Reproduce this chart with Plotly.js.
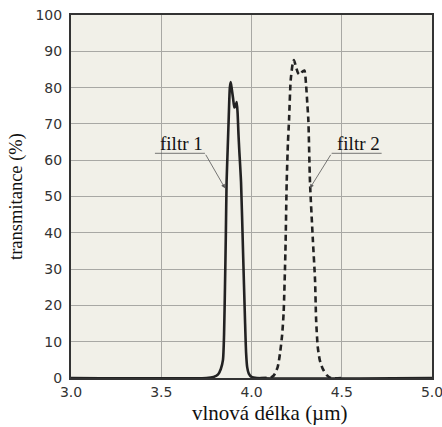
<!DOCTYPE html>
<html>
<head>
<meta charset="utf-8">
<script src="https://cdn.plot.ly/plotly-3.0.1.min.js"></script>
<style>html,body{margin:0;padding:0;background:#fff;}#chart{width:442px;height:427px;}</style>
</head>
<body>
<div id="chart"></div>
<script>
// Filter 1 (solid)
const filtr1X = [3.00, 3.75, 3.79, 3.815, 3.83, 3.842, 3.848, 3.853, 3.858, 3.862, 3.868, 3.874, 3.880, 3.885, 3.891, 3.898, 3.905, 3.912, 3.918, 3.923, 3.928, 3.932, 3.942, 3.953, 3.964, 3.970, 3.976, 3.985, 4.00, 4.03, 5.00];
const filtr1Y = [0, 0, 0.3, 1, 2.5, 5, 12, 25, 40, 54, 63, 72, 80, 81.5, 79.5, 77, 74.5, 75, 76, 73, 67, 63, 54, 35, 16, 7, 3, 1.2, 0.3, 0, 0];
// Filter 2 (dashed)
const filtr2X = [4.05, 4.11, 4.125, 4.145, 4.158, 4.17, 4.178, 4.188, 4.195, 4.202, 4.208, 4.217, 4.228, 4.235, 4.245, 4.258, 4.269, 4.280, 4.293, 4.302, 4.310, 4.315, 4.324, 4.340, 4.352, 4.358, 4.367, 4.378, 4.395, 4.417, 4.44, 4.50];
const filtr2Y = [0, 0.2, 0.8, 3, 6.8, 12, 18, 35, 54, 65, 71, 82, 86.5, 87.6, 86, 84, 83.5, 84.3, 84.7, 81, 75, 71, 54, 38, 27, 16, 8.6, 5, 2.5, 0.8, 0, 0];
// Labels
const labelTexts = ['filtr 1', 'filtr 2'];
const labelX = [3.613, 4.59];
const labelY = [64.5, 64.5];
const underlineX0 = [3.465, 4.444];
const underlineX1 = [3.742, 4.721];
const underlineY = [61.9, 61.9];
const arrowTailX = [3.742, 4.444];
const arrowHeadX = [3.853, 4.324];
const arrowHeadY = [52.3, 52.3];
const xTicks = [3.0, 3.5, 4.0, 4.5, 5.0];
const yTicks = [0, 10, 20, 30, 40, 50, 60, 70, 80, 90, 100];
const xTitle = 'vlnová délka (µm)';
const yTitle = 'transmitance (%)';

const traces = [
  {x: filtr1X, y: filtr1Y, type: 'scatter', mode: 'lines', line: {color: '#222', width: 2.6, shape: 'spline', smoothing: 0.6}, hoverinfo: 'skip'},
  {x: filtr2X, y: filtr2Y, type: 'scatter', mode: 'lines', line: {color: '#222', width: 2.6, dash: '6px,4px', shape: 'spline', smoothing: 0.6}, hoverinfo: 'skip'}
];

const annotations = [];
const shapes = [];
for (let i = 0; i < labelTexts.length; i++) {
  annotations.push({x: labelX[i], y: labelY[i], xref: 'x', yref: 'y', text: labelTexts[i], showarrow: false,
    font: {family: 'Liberation Serif, serif', size: 19, color: '#111'}});
  annotations.push({x: arrowHeadX[i], y: arrowHeadY[i], ax: arrowTailX[i], ay: underlineY[i], xref: 'x', yref: 'y', axref: 'x', ayref: 'y',
    text: '', showarrow: true, arrowhead: 2, arrowsize: 1, arrowwidth: 0.8, arrowcolor: '#555', standoff: 0});
  shapes.push({type: 'line', xref: 'x', yref: 'y', x0: underlineX0[i], x1: underlineX1[i], y0: underlineY[i], y1: underlineY[i],
    line: {color: '#555', width: 0.8}});
}
// x-axis title (placed slightly right of centre, as in the reference)
annotations.push({x: 0.551, y: -0.097, xref: 'paper', yref: 'paper', xanchor: 'center', yanchor: 'middle',
  text: xTitle, showarrow: false, font: {family: 'Liberation Serif, serif', size: 21, color: '#111'}});

const layout = {
  width: 442, height: 427,
  margin: {l: 71, r: 10, t: 15, b: 49},
  paper_bgcolor: '#ffffff',
  plot_bgcolor: '#f1f0e8',
  showlegend: false,
  xaxis: {
    range: [3, 5], tickvals: xTicks, ticktext: xTicks.map(v => v.toFixed(1)),
    showgrid: true, gridcolor: '#a8a8a4', gridwidth: 1,
    showline: true, linecolor: '#333', linewidth: 2, mirror: true, zeroline: false,
    ticks: '', ticklabeloverflow: 'allow', tickfont: {family: 'DejaVu Sans, Verdana, sans-serif', size: 14, color: '#333'}
  },
  yaxis: {
    range: [0, 100], tickvals: yTicks,
    showgrid: true, gridcolor: '#a8a8a4', gridwidth: 1,
    showline: true, linecolor: '#333', linewidth: 2, mirror: true, zeroline: false,
    ticks: '', ticklabelstandoff: 4, ticklabeloverflow: 'allow', tickfont: {family: 'DejaVu Sans, Verdana, sans-serif', size: 14, color: '#333'},
    title: {text: yTitle, font: {family: 'Liberation Serif, serif', size: 18.5, color: '#111'}, standoff: 8}
  },
  annotations: annotations,
  shapes: shapes
};

Plotly.newPlot('chart', traces, layout, {displayModeBar: false, staticPlot: true});
</script>
</body>
</html>
